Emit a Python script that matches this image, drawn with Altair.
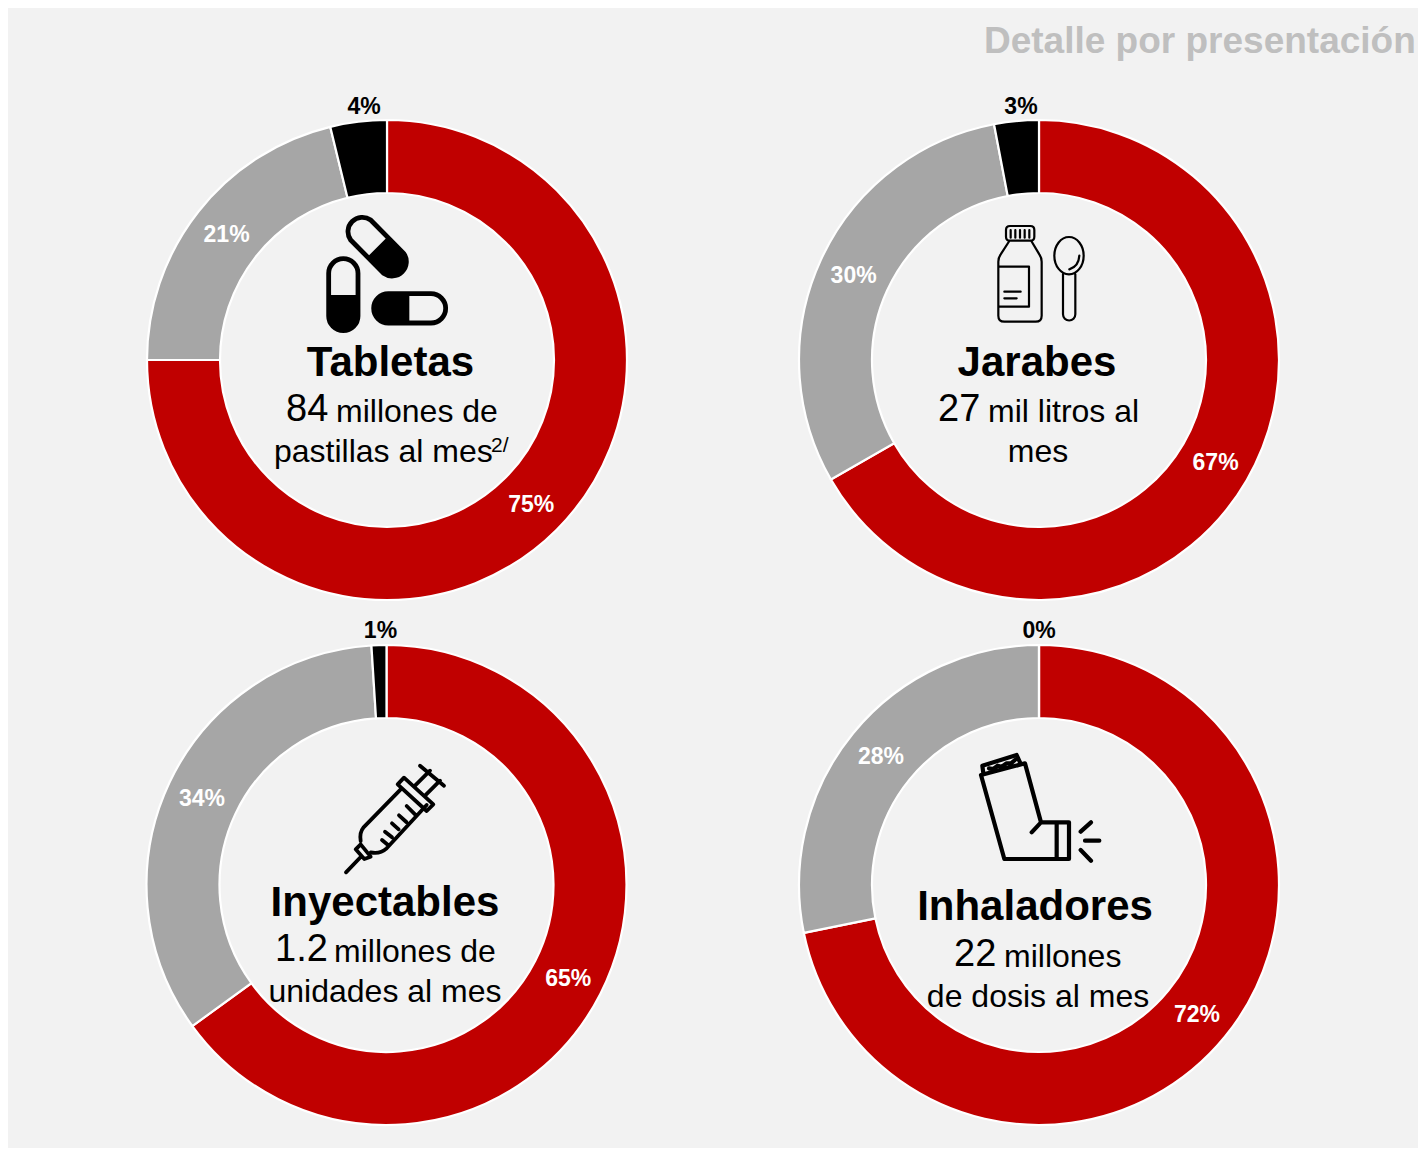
import altair as alt
import pandas as pd

FONT = "Liberation Sans"
W, H = 1410, 1140

PANELS = ["Tabletas", "Jarabes", "Inyectables", "Inhaladores"]
SERIES = ["Principal", "Secundario", "Otros"]
COLORS = ["#c00000", "#a6a6a6", "#000000"]
TABLETAS = [75, 21.2, 3.8]
JARABES = [66.7, 30.3, 3]
INYECTABLES = [65, 34, 1]
INHALADORES = [71.8, 28.2, 0]
ALL_VALUES = [TABLETAS, JARABES, INYECTABLES, INHALADORES]
LABELS_TABLETAS = ["75%", "21%", "4%"]
LABELS_JARABES = ["67%", "30%", "3%"]
LABELS_INYECTABLES = ["65%", "34%", "1%"]
LABELS_INHALADORES = ["72%", "28%", "0%"]
ALL_LABELS = [LABELS_TABLETAS, LABELS_JARABES, LABELS_INYECTABLES, LABELS_INHALADORES]
CENTERS = {"Tabletas": (379, 352), "Jarabes": (1031, 352),
           "Inyectables": (378.5, 877), "Inhaladores": (1031, 877)}

rows = []
for panel, vals, labels in zip(PANELS, ALL_VALUES, ALL_LABELS):
    for i, (s, v, lab) in enumerate(zip(SERIES, vals, labels)):
        rows.append({"panel": panel, "series": s, "order": i, "value": v,
                     "label": lab,
                     "r": 255 if s == "Otros" else 204,
                     "tc": "#000000" if s == "Otros" else "#ffffff"})
df = pd.DataFrame(rows)

theta = alt.Theta("value:Q", stack=True, scale=alt.Scale(domain=[0, 100]))
order = alt.Order("order:Q")
layers = []
for panel in PANELS:
    cx, cy = CENTERS[panel]
    base = alt.Chart(df).transform_filter(alt.datum.panel == panel)
    layers.append(base.mark_arc(outerRadius=240, innerRadius=167, stroke="#ffffff", strokeWidth=2.2).encode(
        x=alt.value(cx), y=alt.value(cy), theta=theta, order=order,
        color=alt.Color("series:N", legend=None, scale=alt.Scale(domain=SERIES, range=COLORS)),
    ))
    layers.append(base.transform_stack(
        stack="value", groupby=["panel"], sort=[alt.SortField("order", order="ascending")], as_=["t0", "t1"]
    ).transform_calculate(
        mid="datum.series === 'Otros' ? 100 - (100 - (datum.t0 + datum.t1) / 2) * 0.75 : (datum.t0 + datum.t1) / 2"
    ).mark_text(
        font=FONT, fontSize=23, fontWeight="bold", baseline="middle", align="center", dy=1).encode(
        x=alt.value(cx), y=alt.value(cy),
        theta=alt.Theta("mid:Q", stack=None, scale=alt.Scale(domain=[0, 100])),
        radius=alt.Radius("r:Q", scale=None),
        text="label:N", color=alt.Color("tc:N", scale=None),
    ))

one = pd.DataFrame({"a": [0]})


def txt(s, x, y, size=32, bold=False, align="center", color="#000000"):
    return alt.Chart(one).mark_text(
        font=FONT, fontSize=size, fontWeight="bold" if bold else "normal",
        align=align, baseline="middle", color=color,
    ).encode(x=alt.value(x - 8), y=alt.value(y - 6.5), text=alt.value(s))


layers += [
    txt("Detalle por presentación", 984, 40, 37, True, "left", "#bfbfbf"),
    txt("Tabletas", 390.5, 361, 42, True),
    txt("84", 286, 408, 38, align="left"),
    txt("millones de", 336, 410, 32, align="left"),
    txt("pastillas al mes", 274, 450, 32, align="left"),
    txt("2/", 491, 444, 21, align="left"),
    txt("Jarabes", 1037, 361, 42, True),
    txt("27", 938, 408, 38, align="left"),
    txt("mil litros al", 988, 410, 32, align="left"),
    txt("mes", 1038, 450, 32),
    txt("Inyectables", 385, 901, 42, True),
    txt("1.2", 275, 948, 38, align="left"),
    txt("millones de", 334, 950, 32, align="left"),
    txt("unidades al mes", 385, 990, 32),
    txt("Inhaladores", 1035, 905, 42, True),
    txt("22", 954, 953, 38, align="left"),
    txt("millones", 1004, 955, 32, align="left"),
    txt("de dosis al mes", 1038, 995, 32),
]

# Icon glyphs, drawn in the units of a 3x grid (size 4/9 gives one third of a pixel per unit)
PILL_OUTLINE = ("M212 60L311 160A43 43 0 0 1 251 220L152 120A43 43 0 0 1 212 60Z"
                "M86 220A44 44 0 0 1 174 220L174 348A44 44 0 0 1 86 348Z"
                "M265 281L393 281A44 44 0 0 1 393 369L265 369A44 44 0 0 1 265 281Z")
PILL_FILL = ("M262 111L311 160A43 43 0 0 1 251 220L202 171Z"
             "M86 285L174 285L174 348A44 44 0 0 1 86 348Z"
             "M328 281L265 281A44 44 0 0 0 265 369L328 369Z")
BOTTLE = ("M120 33L181 33Q193 33 193 45L193 65Q193 77 181 77L120 77Q108 77 108 65L108 45Q108 33 120 33Z"
          "M122 45L122 68M136 45L136 68M150 45L150 68M164 45L164 68M178 45L178 68"
          "M118 78L92 118Q85 128 85 140L85 302Q85 320 103 320L197 320Q215 320 215 302L215 140Q215 128 208 118L184 78"
          "M85 155L177 155L177 275L85 275"
          "M103 230L152 230M103 250L140 250"
          "M297 66C321 66 341 91 341 122C341 153 321 178 297 178C273 178 253 153 253 122C253 91 273 66 297 66Z"
          "M279 178L279 298A18 18 0 0 0 316 298L316 178"
          "M328 122Q326 155 298 163")
SYRINGE = ("M48 352L95 303"
           "M215 100L100 218Q88 232 92 258"
           "M290 150L170 280Q150 298 122 292"
           "M222 68L310 148L290 168L203 88Z"
           "M255 92L300 47M285 122L330 77"
           "M270 32L342 92"
           "M230 153L255 178M207 181L229 201M186 205L206 223M165 230L186 247M156 255L174 270"
           "M92 268L77 283L103 312L122 305Z")
INHALER = ("M48 90L118 342L312 342L312 232L228 232L180 55Z"
           "M275 232L275 342M228 232L200 262"
           "M55 85L52 62L155 30L165 52"
           "M72 70L85 72L98 62L110 65L125 55L138 55L150 45"
           "M347 260L378 232M360 287L403 287M347 315L378 347")


def icon(path, x, y, width, fill=False):
    kw = {"fill": "#000000", "fillOpacity": 1, "strokeWidth": 0} if fill else {
        "fillOpacity": 0, "stroke": "#000000", "strokeWidth": width, "strokeCap": "round", "strokeJoin": "round"}
    return alt.Chart(one).mark_point(shape=path, size=4 / 9, opacity=1, filled=fill, **kw).encode(
        x=alt.value(x - 8), y=alt.value(y - 8))


layers += [
    icon(PILL_OUTLINE, 300, 200, 4.8),
    icon(PILL_FILL, 300, 200, 0, True),
    icon(BOTTLE, 970, 215, 2.2),
    icon(SYRINGE, 330, 755, 3.8),
    icon(INHALER, 965, 745, 4.2),
]

chart = alt.layer(*layers).properties(
    width=W, height=H, padding=0, background="#f2f2f2",
    autosize=alt.AutoSizeParams(type="none"),
).resolve_scale(color="independent").configure_view(stroke=None)

chart.save("out.html", embed_options={"renderer": "svg", "actions": False})
